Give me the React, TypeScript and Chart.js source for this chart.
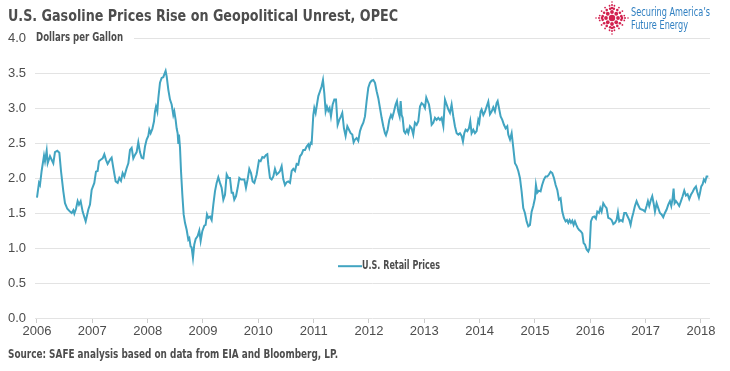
import React, { useEffect, useRef } from "react";
import { Chart, registerables } from "chart.js";

Chart.register(...registerables);

const title = "U.S. Gasoline Prices Rise on Geopolitical Unrest, OPEC";
const unitLabel = "Dollars per Gallon";
const seriesLabel = "U.S. Retail Prices";
const sourceText = "Source: SAFE analysis based on data from EIA and Bloomberg, LP.";
const logoLines = ["Securing America\u2019s", "Future Energy"];

const yearTicks = [2006, 2007, 2008, 2009, 2010, 2011, 2012, 2013, 2014, 2015, 2016, 2017, 2018];
const priceTicks = [0, 0.5, 1, 1.5, 2, 2.5, 3, 3.5, 4];

const years = [
  2006.0, 2006.036, 2006.054, 2006.084, 2006.127, 2006.145, 2006.175, 2006.193, 2006.235, 2006.265,
  2006.295, 2006.325, 2006.367, 2006.404, 2006.434, 2006.476, 2006.506, 2006.548, 2006.596, 2006.627,
  2006.657, 2006.675, 2006.705, 2006.735, 2006.759, 2006.789, 2006.825, 2006.88, 2006.928, 2006.958,
  2006.988, 2007.036, 2007.066, 2007.096, 2007.12, 2007.151, 2007.187, 2007.217, 2007.247, 2007.277,
  2007.319, 2007.349, 2007.38, 2007.422, 2007.458, 2007.488, 2007.518, 2007.548, 2007.578, 2007.62,
  2007.651, 2007.681, 2007.711, 2007.741, 2007.771, 2007.801, 2007.831, 2007.861, 2007.892, 2007.922,
  2007.952, 2007.982, 2008.012, 2008.03, 2008.054, 2008.085, 2008.115, 2008.133, 2008.151, 2008.175,
  2008.193, 2008.223, 2008.253, 2008.283, 2008.301, 2008.325, 2008.344, 2008.374, 2008.404, 2008.434,
  2008.464, 2008.482, 2008.506, 2008.524, 2008.542, 2008.554, 2008.566, 2008.585, 2008.603, 2008.627,
  2008.651, 2008.675, 2008.705, 2008.735, 2008.753, 2008.777, 2008.795, 2008.819, 2008.843, 2008.868,
  2008.904, 2008.934, 2008.958, 2008.988, 2009.024, 2009.048, 2009.072, 2009.097, 2009.127, 2009.157,
  2009.187, 2009.217, 2009.247, 2009.277, 2009.307, 2009.337, 2009.368, 2009.398, 2009.428, 2009.458,
  2009.488, 2009.518, 2009.542, 2009.566, 2009.597, 2009.627, 2009.657, 2009.687, 2009.717, 2009.747,
  2009.777, 2009.807, 2009.837, 2009.868, 2009.898, 2009.928, 2009.97, 2010.012, 2010.042, 2010.073,
  2010.103, 2010.139, 2010.163, 2010.181, 2010.211, 2010.241, 2010.271, 2010.301, 2010.332, 2010.362,
  2010.392, 2010.422, 2010.452, 2010.482, 2010.512, 2010.542, 2010.573, 2010.603, 2010.633, 2010.663,
  2010.693, 2010.723, 2010.753, 2010.783, 2010.813, 2010.844, 2010.874, 2010.904, 2010.922, 2010.946,
  2010.964, 2010.994, 2011.012, 2011.036, 2011.06, 2011.085, 2011.115, 2011.145, 2011.169, 2011.193,
  2011.217, 2011.241, 2011.265, 2011.289, 2011.313, 2011.344, 2011.374, 2011.404, 2011.434, 2011.464,
  2011.494, 2011.518, 2011.548, 2011.578, 2011.609, 2011.639, 2011.669, 2011.699, 2011.723, 2011.747,
  2011.777, 2011.807, 2011.838, 2011.868, 2011.898, 2011.928, 2011.958, 2011.988, 2012.018, 2012.048,
  2012.079, 2012.109, 2012.139, 2012.169, 2012.199, 2012.229, 2012.259, 2012.289, 2012.307, 2012.338,
  2012.368, 2012.398, 2012.422, 2012.452, 2012.482, 2012.506, 2012.53, 2012.554, 2012.573, 2012.591,
  2012.609, 2012.633, 2012.657, 2012.687, 2012.711, 2012.741, 2012.771, 2012.801, 2012.831, 2012.862,
  2012.892, 2012.922, 2012.952, 2012.982, 2013.012, 2013.036, 2013.06, 2013.085, 2013.115, 2013.133,
  2013.163, 2013.193, 2013.223, 2013.253, 2013.283, 2013.313, 2013.344, 2013.374, 2013.404, 2013.434,
  2013.464, 2013.494, 2013.524, 2013.554, 2013.585, 2013.615, 2013.645, 2013.675, 2013.699, 2013.723,
  2013.747, 2013.777, 2013.807, 2013.831, 2013.855, 2013.886, 2013.916, 2013.946, 2013.976, 2013.994,
  2014.018, 2014.036, 2014.067, 2014.097, 2014.127, 2014.157, 2014.187, 2014.217, 2014.247, 2014.277,
  2014.307, 2014.326, 2014.35, 2014.38, 2014.41, 2014.44, 2014.47, 2014.5, 2014.518, 2014.549,
  2014.579, 2014.609, 2014.639, 2014.669, 2014.699, 2014.729, 2014.759, 2014.789, 2014.819, 2014.85,
  2014.88, 2014.91, 2014.94, 2014.97, 2015.0, 2015.018, 2015.042, 2015.072, 2015.102, 2015.13,
  2015.163, 2015.193, 2015.223, 2015.253, 2015.283, 2015.313, 2015.344, 2015.374, 2015.404, 2015.434,
  2015.464, 2015.494, 2015.524, 2015.554, 2015.579, 2015.603, 2015.627, 2015.651, 2015.675, 2015.699,
  2015.723, 2015.747, 2015.771, 2015.796, 2015.826, 2015.856, 2015.88, 2015.904, 2015.934, 2015.964,
  2015.988, 2016.012, 2016.042, 2016.072, 2016.102, 2016.127, 2016.157, 2016.181, 2016.205, 2016.235,
  2016.265, 2016.295, 2016.325, 2016.355, 2016.386, 2016.416, 2016.446, 2016.476, 2016.5, 2016.524,
  2016.554, 2016.584, 2016.614, 2016.645, 2016.675, 2016.705, 2016.729, 2016.753, 2016.777, 2016.807,
  2016.837, 2016.867, 2016.898, 2016.928, 2016.958, 2016.988, 2017.018, 2017.042, 2017.066, 2017.096,
  2017.12, 2017.145, 2017.169, 2017.199, 2017.229, 2017.259, 2017.289, 2017.319, 2017.349, 2017.38,
  2017.41, 2017.44, 2017.464, 2017.488, 2017.506, 2017.524, 2017.548, 2017.578, 2017.608, 2017.639,
  2017.669, 2017.699, 2017.729, 2017.759, 2017.789, 2017.819, 2017.849, 2017.88, 2017.91, 2017.934,
  2017.964, 2017.982, 2018.006, 2018.03, 2018.054, 2018.078, 2018.102, 2018.133,
];

const prices = [
  1.72, 1.93, 1.9, 2.1, 2.32, 2.24, 2.39, 2.21, 2.31, 2.26,
  2.21, 2.37, 2.39, 2.36, 2.1, 1.81, 1.64, 1.56, 1.52, 1.5,
  1.54, 1.49, 1.56, 1.67, 1.62, 1.67, 1.52, 1.38, 1.55, 1.62,
  1.83, 1.93, 2.09, 2.1, 2.24, 2.26, 2.28, 2.34, 2.26, 2.2,
  2.26, 2.29, 2.14, 1.95, 1.93, 2.0, 1.96, 2.07, 2.02, 2.14,
  2.21, 2.4, 2.43, 2.28, 2.33, 2.37, 2.51, 2.37, 2.29, 2.28,
  2.45, 2.55, 2.6, 2.69, 2.64, 2.7, 2.81, 2.95, 3.02, 2.95,
  3.14, 3.36, 3.43, 3.44, 3.48, 3.53, 3.45, 3.26, 3.12, 3.05,
  2.9, 2.95, 2.83, 2.71, 2.64, 2.5, 2.62, 2.43, 2.1, 1.76,
  1.48, 1.36, 1.26, 1.12, 1.14, 1.02, 1.01, 0.86, 1.05, 1.13,
  1.17, 1.25, 1.1, 1.24, 1.32, 1.33, 1.48, 1.43, 1.45, 1.4,
  1.62, 1.81, 1.93, 2.01, 1.93, 1.86, 1.69, 1.76, 2.05, 2.0,
  2.0, 1.79, 1.79, 1.69, 1.74, 1.86, 2.0, 1.98, 1.98, 1.98,
  1.86, 1.98, 2.13, 2.07, 1.95, 1.93, 2.05, 2.25, 2.24, 2.3,
  2.29, 2.33, 2.34, 2.19, 2.0, 1.98, 2.02, 2.13, 2.05, 2.07,
  2.1, 2.17, 1.98, 1.9, 1.94, 1.95, 1.93, 2.1, 2.13, 2.1,
  2.2, 2.19, 2.31, 2.34, 2.4, 2.4, 2.45, 2.48, 2.43, 2.5,
  2.49, 2.9, 3.0, 2.93, 3.05, 3.17, 3.24, 3.31, 3.4, 3.21,
  2.95, 3.02, 2.96, 3.0, 2.88, 3.05, 3.12, 3.12, 2.76, 2.83,
  2.88, 2.93, 2.71, 2.6, 2.74, 2.69, 2.64, 2.62, 2.51, 2.55,
  2.57, 2.53, 2.67, 2.74, 2.79, 2.88, 3.1, 3.29, 3.36, 3.39,
  3.4, 3.36, 3.24, 3.14, 3.0, 2.86, 2.74, 2.64, 2.61, 2.69,
  2.83, 2.9, 2.86, 2.95, 3.05, 3.1, 2.95, 2.88, 3.1, 2.9,
  2.86, 2.67, 2.64, 2.69, 2.64, 2.74, 2.71, 2.62, 2.79, 2.76,
  2.81, 3.02, 3.07, 3.05, 3.0, 3.15, 3.1, 3.05, 2.9, 2.76,
  2.79, 2.86, 2.83, 2.86, 2.83, 2.86, 2.74, 3.12, 3.05, 2.98,
  2.93, 3.05, 2.88, 2.74, 2.64, 2.62, 2.64, 2.6, 2.52, 2.64,
  2.69, 2.67, 2.71, 2.81, 2.64, 2.69, 2.64, 2.67, 2.83, 2.79,
  2.95, 2.98, 2.9, 2.95, 3.02, 3.09, 2.91, 2.95, 3.01, 2.95,
  3.07, 3.1, 3.0, 2.88, 2.83, 2.76, 2.71, 2.74, 2.62, 2.55,
  2.64, 2.43, 2.21, 2.17, 2.1, 2.0, 1.81, 1.57, 1.5, 1.38,
  1.31, 1.33, 1.52, 1.6, 1.71, 1.9, 1.79, 1.82, 1.81, 1.9,
  1.98, 2.02, 2.02, 2.05, 2.09, 2.07, 2.0, 1.9, 1.83, 1.69,
  1.71, 1.52, 1.43, 1.38, 1.4, 1.36, 1.4, 1.36, 1.39, 1.33,
  1.38, 1.33, 1.29, 1.26, 1.24, 1.21, 1.07, 1.05, 0.98, 0.95,
  1.0, 1.38, 1.44, 1.45, 1.42, 1.52, 1.5, 1.57, 1.52, 1.64,
  1.6, 1.57, 1.43, 1.42, 1.4, 1.34, 1.36, 1.4, 1.51, 1.38,
  1.4, 1.38, 1.5, 1.5, 1.45, 1.4, 1.33, 1.43, 1.5, 1.6,
  1.67, 1.61, 1.56, 1.55, 1.54, 1.52, 1.6, 1.67, 1.6, 1.69,
  1.74, 1.64, 1.52, 1.64, 1.57, 1.5, 1.48, 1.44, 1.5, 1.55,
  1.62, 1.67, 1.6, 1.71, 1.85, 1.64, 1.67, 1.64, 1.6, 1.67,
  1.74, 1.82, 1.75, 1.77, 1.7, 1.76, 1.8, 1.85, 1.88, 1.8,
  1.72, 1.78, 1.88, 1.91, 1.98, 1.95, 2.02, 2.02,
];

const LINE_COLOR = "#41a4c1";
const TEXT_COLOR = "#4d4d4d";
const FONT = '"DejaVu Sans Condensed", "Liberation Sans", sans-serif';
const TICK_FONT = '"Liberation Sans", Arial, sans-serif';

// draw text condensed horizontally so that it fills the given width
function fitText(ctx: CanvasRenderingContext2D, text: string, x: number, y: number, width: number) {
  const w = ctx.measureText(text).width;
  const s = Math.min(1, width / w);
  ctx.save();
  ctx.translate(x, y);
  ctx.scale(s, 1);
  ctx.fillText(text, 0, 0);
  ctx.restore();
  return w * s;
}

const decorPlugin = {
  id: "decor",
  afterDraw(chart: any) {
    const { ctx, chartArea, scales } = chart;
    const y4 = scales.y.getPixelForValue(4);
    ctx.save();
    ctx.textAlign = "left";

    // unit label next to top tick, cutting the top grid line
    ctx.font = `bold 12px ${FONT}`;
    ctx.fillStyle = "#ffffff";
    ctx.fillRect(chartArea.left - 1, y4 - 3, 100, 6);
    ctx.fillStyle = TEXT_COLOR;
    ctx.textBaseline = "middle";
    fitText(ctx, unitLabel, chartArea.left + 1, y4, 87);

    // title
    ctx.font = `bold 16px ${FONT}`;
    ctx.textBaseline = "alphabetic";
    fitText(ctx, title, 8, 21, 390);

    // source
    ctx.font = `bold 12px ${FONT}`;
    fitText(ctx, sourceText, 8, 358, 330);

    // legend
    const lx = 338;
    const ly = scales.y.getPixelForValue(0.74);
    ctx.strokeStyle = LINE_COLOR;
    ctx.lineWidth = 2;
    ctx.beginPath();
    ctx.moveTo(lx, ly);
    ctx.lineTo(lx + 24, ly);
    ctx.stroke();
    ctx.font = `bold 12px ${FONT}`;
    ctx.fillStyle = TEXT_COLOR;
    ctx.textBaseline = "middle";
    fitText(ctx, seriesLabel, lx + 24, ly, 78);

    // logo
    const cx = 612;
    const cy = 18;
    ctx.fillStyle = "#d2214f";
    const dot = (x: number, y: number, r: number) => {
      ctx.beginPath();
      ctx.arc(x, y, r, 0, Math.PI * 2);
      ctx.fill();
    };
    dot(cx, cy, 3.2);
    for (let i = 0; i < 8; i++) {
      const a = (i * Math.PI) / 4;
      dot(cx + Math.cos(a) * 6, cy + Math.sin(a) * 6, 1.9);
    }
    for (let i = 0; i < 16; i++) {
      const a = (i * Math.PI) / 8 + Math.PI / 16;
      dot(cx + Math.cos(a) * 9.5, cy + Math.sin(a) * 9.5, 1.3);
      dot(cx + Math.cos(a) * 12.5, cy + Math.sin(a) * 12.5, 0.9);
    }
    for (let i = 0; i < 4; i++) {
      const a = (i * Math.PI) / 2;
      dot(cx + Math.cos(a) * 10, cy + Math.sin(a) * 10, 1.3);
      dot(cx + Math.cos(a) * 13, cy + Math.sin(a) * 13, 1.0);
      dot(cx + Math.cos(a) * 16, cy + Math.sin(a) * 16, 0.8);
    }
    ctx.fillStyle = "#2f7fc1";
    ctx.font = `12px ${FONT}`;
    ctx.textBaseline = "alphabetic";
    fitText(ctx, logoLines[0], 631, 16, 79);
    fitText(ctx, logoLines[1], 631, 29, 57);
    ctx.restore();
  },
};

export default function App() {
  const canvasRef = useRef<HTMLCanvasElement | null>(null);

  useEffect(() => {
    const canvas = canvasRef.current;
    if (!canvas) return;
    const points = years.map((x, i) => ({ x, y: prices[i] }));
    const chart = new Chart(canvas, {
      type: "line",
      data: {
        datasets: [
          {
            label: seriesLabel,
            data: points,
            borderColor: LINE_COLOR,
            borderWidth: 2,
            pointRadius: 0,
            tension: 0,
            fill: false,
          },
        ],
      },
      options: {
        animation: false,
        responsive: false,
        events: [],
        layout: { padding: { left: 8, right: 20, top: 38, bottom: 0 } },
        plugins: { legend: { display: false }, tooltip: { enabled: false } },
        scales: {
          x: {
            type: "linear",
            min: 2005.964,
            max: 2018.164,
            afterBuildTicks: (scale: any) => {
              scale.ticks = yearTicks.map((v) => ({ value: v }));
            },
            afterFit: (scale: any) => {
              scale.height = 53;
            },
            grid: {
              display: true,
              drawOnChartArea: false,
              drawTicks: true,
              tickLength: 5,
              color: "#cccccc",
            },
            border: { display: false },
            ticks: {
              padding: 1,
              maxRotation: 0,
              autoSkip: false,
              color: TEXT_COLOR,
              font: { family: TICK_FONT, size: 13 },
              callback: (v: any) => String(v),
            },
          },
          y: {
            min: 0,
            max: 4,
            afterBuildTicks: (scale: any) => {
              scale.ticks = priceTicks.map((v) => ({ value: v }));
            },
            afterFit: (scale: any) => {
              scale.width = 27;
            },
            grid: {
              color: "#e3e3e3",
              drawTicks: false,
              lineWidth: 1,
            },
            border: { display: false },
            ticks: {
              padding: 0,
              crossAlign: "far",
              color: TEXT_COLOR,
              font: { family: TICK_FONT, size: 13 },
              callback: (v: any) => Number(v).toFixed(1),
            },
          },
        },
      },
      plugins: [decorPlugin],
    });
    return () => chart.destroy();
  }, []);

  return (
    <div style={{ position: "absolute", left: 0, top: 0, width: 730, height: 371, background: "#fff" }}>
      <canvas ref={canvasRef} width={730} height={371} style={{ display: "block", width: 730, height: 371 }} />
    </div>
  );
}
